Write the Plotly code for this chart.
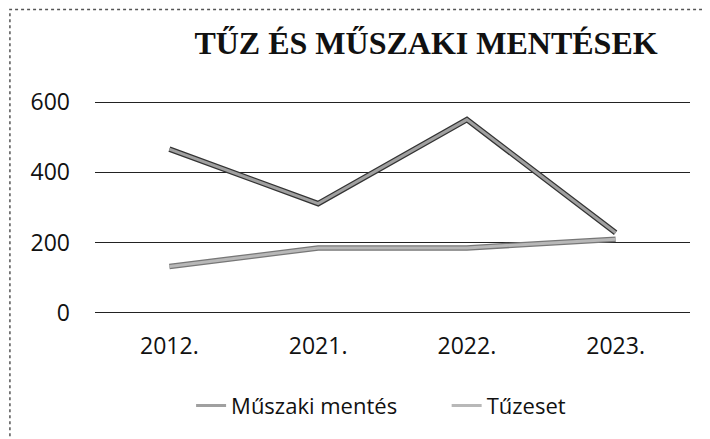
import plotly.graph_objects as go

categories = ["2012.", "2021.", "2022.", "2023."]
muszaki_mentes = [466, 311, 550, 228]
tuzeset = [132, 185, 185, 210]
tick_vals = [0, 200, 400, 600]
tick_text = ["0", "200", "400", "600"]

fig = go.Figure()

series = [("Műszaki mentés", muszaki_mentes, "#a0a0a0", "#333333", "legend"),
          ("Tűzeset", tuzeset, "#b8b8b8", "#777777", "legend2")]
for name, vals, col, edge, leg in series:
    fig.add_trace(go.Scatter(x=categories, y=vals, mode="lines", name=name,
                             line=dict(color=edge, width=5.5), showlegend=False,
                             legendgroup=name, hoverinfo="skip"))
    fig.add_trace(go.Scatter(x=categories, y=vals, mode="lines", name=name,
                             line=dict(color=col, width=3), legendgroup=name,
                             legend=leg))

W, H = 702, 431
legend_common = dict(orientation="h", xanchor="left", y=-0.43, yanchor="middle",
                     font=dict(size=22, family="Open Sans", color="#111"),
                     bgcolor="rgba(0,0,0,0)")
fig.update_layout(
    width=W, height=H,
    margin=dict(l=87, r=20, t=93, b=120),
    paper_bgcolor="white", plot_bgcolor="white",
    title=dict(text="<b>TŰZ ÉS MŰSZAKI MENTÉSEK</b>", x=418 / W, xanchor="center",
               y=1 - 35 / H, yanchor="middle",
               font=dict(family="Liberation Serif", size=32, color="#111")),
    font=dict(family="Open Sans", color="#111"),
    xaxis=dict(showgrid=False, showline=False, ticks="", zeroline=False,
               tickfont=dict(size=23), range=[-0.5, 3.5], ticklabelstandoff=16),
    yaxis=dict(range=[-3, 603], tickvals=tick_vals, ticktext=tick_text,
               showgrid=True, gridcolor="#222", gridwidth=1.3, zeroline=False,
               tickfont=dict(size=23), ticklabelstandoff=24, showline=False),
    legend=dict(x=0.1615, **legend_common),
    legend2=dict(x=0.591, **legend_common),
    shapes=[dict(type="rect", xref="paper", yref="paper", x0=-0.143, x1=1.3,
                 y0=-0.8, y1=1.43, line=dict(color="#555", width=1.5, dash="dot"))],
)

fig.write_html("out.html")
